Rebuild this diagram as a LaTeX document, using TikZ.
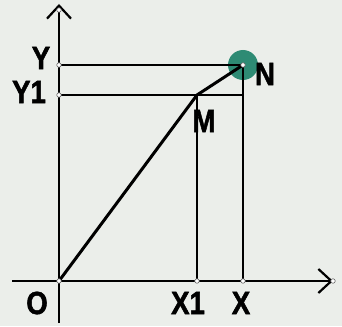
\documentclass[tikz,border=0pt]{standalone}
\usepackage{fontspec}
\setmainfont{Liberation Sans}
\newfontfamily\lblfont{Liberation Sans}[UprightFont=* Bold, FakeStretch=0.86, FakeBold=1.6]
\usetikzlibrary{arrows.meta}
\definecolor{paper}{RGB}{235,238,234}
\definecolor{ngreen}{RGB}{46,139,116}

\begin{document}
\begin{tikzpicture}[x=1pt, y=-1pt,
  axis/.style={line width=2pt, -{Straight Barb[length=13pt, width=24pt, line width=2.2pt]}},
  guide/.style={line width=1.4pt},
  track/.style={line width=3pt, line join=round},
  dot/.style={circle, draw=black!60, fill=white, line width=0.6pt, inner sep=0pt, minimum size=4.5pt},
  lbl/.style={font=\lblfont\fontsize{32}{32}\selectfont, inner sep=0pt}]
  \fill[paper] (0,0) rectangle (342,326);

  % Points
  \coordinate (O)  at (59,281);
  \coordinate (M)  at (197,95);
  \coordinate (N)  at (243,65);
  \coordinate (X1) at (197,281);
  \coordinate (X)  at (243,281);
  \coordinate (Y1) at (59,95);
  \coordinate (Y)  at (59,65);
  \coordinate (xs) at (12,281);
  \coordinate (xe) at (333,281);
  \coordinate (ys) at (59,323);
  \coordinate (ye) at (59,4);

  % Green disc at N
  \fill[ngreen] (N) circle (15);

  % Axes
  \draw[axis] (xs) -- (xe);
  \draw[axis] (ys) -- (ye);

  % Projections
  \draw[guide] (Y) -- (N) -- (X);
  \draw[guide] (Y1) -- (M -| N);
  \draw[guide] (M) -- (X1);

  % Path O -> M -> N
  \draw[track] (O) -- (M) -- (N);

  % Small markers
  \foreach \p in {O, Y, Y1, X1, X, N} \node[dot] at (\p) {};
  \node[dot] at (333,281) {};
  \node[dot] at (59,10) {};

  % Labels
  \node[lbl] (lO)  at (37,303)  {O};
  \node[lbl] (lX1) at (188,303) {X1};
  \node[lbl] (lX)  at (241,303) {X};
  \node[lbl] (lY)  at (41,58)   {Y};
  \node[lbl] (lY1) at (29,92)   {Y1};
  \node[lbl] (lN)  at (265,74)  {N};
  \node[lbl] (lM)  at (204,121) {M};
\end{tikzpicture}
\end{document}
